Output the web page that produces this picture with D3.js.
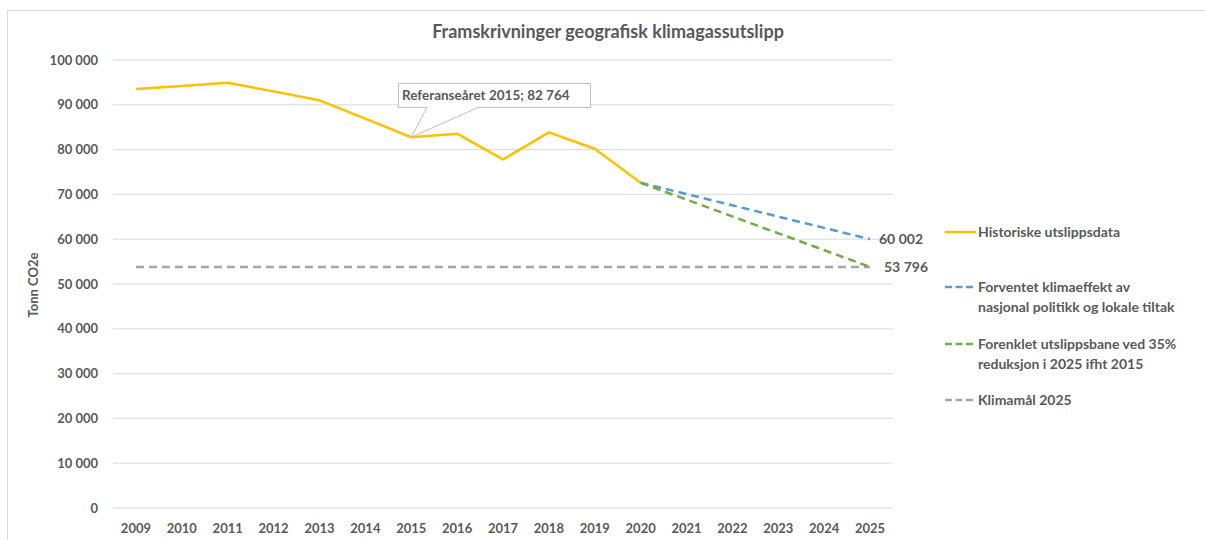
<!DOCTYPE html>
<html>
<head>
<meta charset="utf-8">
<script src="https://cdn.jsdelivr.net/npm/d3@7"></script>
<style>
    body { margin: 0; background: #fff; }
    svg text { font-family: Lato, "Open Sans", sans-serif; font-weight: 700; fill: #595959; }
</style>
</head>
<body>
<svg id="chart" width="1205" height="540"></svg>
<script>
// data
var years = [2009, 2010, 2011, 2012, 2013, 2014, 2015, 2016, 2017,
             2018, 2019, 2020, 2021, 2022, 2023, 2024, 2025];
var historic_years = [2009, 2010, 2011, 2012, 2013, 2014, 2015, 2016, 2017, 2018, 2019, 2020];
var historic_values = [93500, 94200, 94900, 93000, 91000, 86900, 82764, 83550, 77800, 83850, 80200, 72600];
var forecast_years = [2020, 2025];
var forecast_values = [72600, 60002];
var path35_years = [2020, 2025];
var path35_values = [72600, 53796];
var goal_years = [2009, 2025];
var goal_values = [53796, 53796];
var y_ticks = [0, 10000, 20000, 30000, 40000, 50000, 60000, 70000, 80000, 90000, 100000];

var legend_items = [
    { lines: ['Historiske utslippsdata'], color: '#FFC000', dash: null },
    { lines: ['Forventet klimaeffekt av', 'nasjonal politikk og lokale tiltak'], color: '#5B9BD5', dash: '7,3.5' },
    { lines: ['Forenklet utslippsbane ved 35%', 'reduksjon i 2025 ifht 2015'], color: '#70AD47', dash: '7,3.5' },
    { lines: ['Klimamål 2025'], color: '#A5A5A5', dash: '7,3.5' },
];

var svg = d3.select('#chart');
var fmt = v => d3.format(',')(v).replace(/,/g, ' ');

// outer frame
svg.append('rect')
    .attr('x', 7.5).attr('y', 10.5)
    .attr('width', 1400).attr('height', 700)
    .attr('fill', 'none').attr('stroke', '#d9d9d9');

svg.append('text')
    .attr('x', 608).attr('y', 38)
    .attr('text-anchor', 'middle')
    .attr('font-size', 18)
    .text('Framskrivninger geografisk klimagassutslipp');

var x = d3.scaleBand().domain(years).range([113, 893]);
var xc = d => x(d) + x.bandwidth() / 2;
var y = d3.scaleLinear().domain([0, 100000]).range([508, 60]);

// gridlines
svg.append('g')
    .selectAll('line')
    .data(y_ticks)
    .join('line')
    .attr('x1', 113).attr('x2', 893)
    .attr('y1', d => y(d)).attr('y2', d => y(d))
    .attr('stroke', '#d9d9d9').attr('stroke-width', 1);

// y tick labels
svg.append('g')
    .attr('font-size', 13)
    .attr('text-anchor', 'end')
    .selectAll('text')
    .data(y_ticks)
    .join('text')
    .attr('x', 98)
    .attr('y', d => y(d))
    .attr('dy', '0.35em')
    .text(d => fmt(d));

// x tick labels
svg.append('g')
    .attr('font-size', 13)
    .attr('text-anchor', 'middle')
    .selectAll('text')
    .data(years)
    .join('text')
    .attr('x', d => xc(d))
    .attr('y', 533)
    .text(d => d);

svg.append('text')
    .attr('transform', 'translate(38,285) rotate(-90)')
    .attr('text-anchor', 'middle')
    .attr('font-size', 13)
    .text('Tonn CO2e');

var line = d3.line().x(d => xc(d[0])).y(d => y(d[1]));
function draw_series(yrs, vals, color, dash) {
    svg.append('path')
        .datum(d3.zip(yrs, vals))
        .attr('d', line)
        .attr('fill', 'none')
        .attr('stroke', color)
        .attr('stroke-width', 2.5)
        .attr('stroke-linejoin', 'round')
        .attr('stroke-dasharray', dash);
}
draw_series(goal_years, goal_values, '#A5A5A5', '8,5');
draw_series(historic_years, historic_values, '#FFC000', null);
draw_series(forecast_years, forecast_values, '#5B9BD5', '8,5');
draw_series(path35_years, path35_values, '#70AD47', '8,5');

// end value labels
svg.append('text')
    .attr('x', 879).attr('y', y(forecast_values[1]) + 5)
    .attr('font-size', 14)
    .text(fmt(forecast_values[1]));
svg.append('text')
    .attr('x', 884).attr('y', y(path35_values[1]) + 5)
    .attr('font-size', 14)
    .text(fmt(path35_values[1]));

// callout for reference year
var rx = xc(2015), ry = y(historic_values[6]);
svg.append('path')
    .attr('d', `M398.5,83.5 H590.5 V107.5 H478 L${rx},${ry} L427,107.5 H398.5 Z`)
    .attr('fill', '#fff')
    .attr('stroke', '#bfbfbf');
svg.append('text')
    .attr('x', 402).attr('y', 100)
    .attr('font-size', 13.5)
    .text('Referanseåret 2015; ' + fmt(historic_values[6]));

// legend
var ly = [232, 287, 344, 400];
var lg = svg.append('g').attr('font-size', 14);
legend_items.forEach((d, i) => {
    lg.append('line')
        .attr('x1', 945).attr('x2', 976)
        .attr('y1', ly[i]).attr('y2', ly[i])
        .attr('stroke', d.color).attr('stroke-width', 2.5)
        .attr('stroke-dasharray', d.dash);
    d.lines.forEach((t, j) => {
        lg.append('text')
            .attr('x', 978).attr('y', ly[i] + j * 20)
            .attr('dy', '0.35em')
            .text(t);
    });
});
</script>
</body>
</html>
